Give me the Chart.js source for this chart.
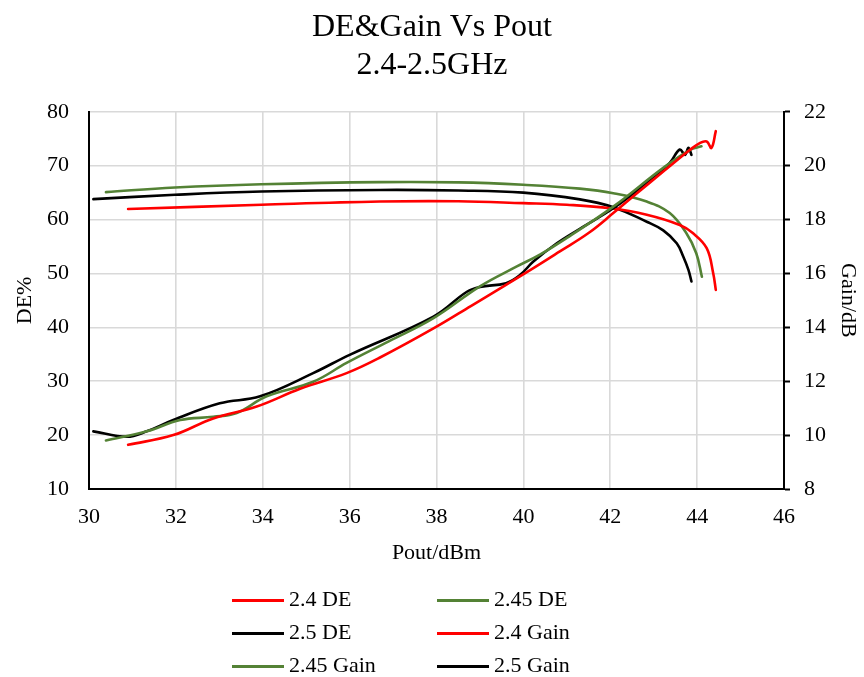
<!DOCTYPE html>
<html>
<head>
<meta charset="utf-8">
<script src="https://cdn.jsdelivr.net/npm/chart.js@4"></script>
<style>
  html, body { margin: 0; padding: 0; background: #fff; }
  #wrap { position: relative; width: 864px; height: 677px; }
  .lg { position: absolute; font-family: "Liberation Serif", "Times New Roman", serif; font-size: 22px; color: #000; line-height: 1; }
  .lg span.ln { position: absolute; height: 2.5px; width: 52px; }
  .lg span.tx { position: absolute; white-space: nowrap; }
</style>
</head>
<body>
<div id="wrap">
  <canvas id="c" width="864" height="677"></canvas>
  <div id="legend"></div>
</div>
<script>
// ---------- data ----------
const seriesNames = ["2.4 DE", "2.45 DE", "2.5 DE", "2.4 Gain", "2.45 Gain", "2.5 Gain"];
const seriesColors = ["#FF0000", "#548235", "#000000", "#FF0000", "#548235", "#000000"];

// DE (left axis, %)
const de24X = [30.9, 31.94, 32.86, 33.86, 34.86, 35.93, 36.7, 37.93, 38.8, 39.6, 40.23, 40.84, 41.5, 42.07, 42.6, 43.22, 43.83, 44.06, 44.22, 44.33, 44.43];
const de24Y = [18.2, 20.0, 23.1, 25.3, 28.6, 31.5, 34.4, 39.8, 44.0, 47.9, 51.0, 54.1, 57.5, 61.2, 64.8, 68.9, 72.9, 74.2, 74.5, 73.3, 76.4];

const de245X = [30.39, 31.33, 32.1, 32.86, 33.4, 34.09, 35.16, 35.93, 36.9, 37.93, 39.0, 39.85, 40.38, 41.0, 42.07, 43.22, 43.83, 44.1];
const de245Y = [19.0, 20.7, 22.8, 23.4, 24.1, 27.2, 29.9, 33.4, 37.4, 41.7, 47.6, 51.3, 53.5, 56.6, 62.4, 69.6, 72.9, 73.6];

const de25X = [30.1, 30.87, 31.33, 31.94, 33.01, 33.94, 35.16, 36.0, 37.93, 38.7, 39.0, 39.6, 39.92, 40.23, 40.77, 41.3, 42.07, 42.84, 43.37, 43.6, 43.72, 43.8, 43.87];
const de25Y = [20.7, 19.7, 20.7, 22.8, 25.9, 27.2, 31.5, 34.9, 42.0, 46.6, 47.5, 48.2, 49.7, 52.2, 55.6, 58.3, 62.1, 66.8, 70.5, 73.0, 72.0, 73.3, 72.0];

// Gain (right axis, dB)
const gain24X = [30.9, 33.97, 36.7, 38.5, 40.0, 41.0, 42.0, 42.84, 43.6, 43.9, 44.22, 44.37, 44.43];
const gain24Y = [18.39, 18.55, 18.67, 18.68, 18.61, 18.55, 18.42, 18.18, 17.8, 17.5, 16.94, 16.01, 15.39];

const gain245X = [30.39, 31.98, 33.97, 36.7, 38.5, 40.0, 41.3, 42.07, 42.84, 43.37, 43.75, 43.98, 44.11];
const gain245Y = [19.02, 19.19, 19.31, 19.39, 19.38, 19.29, 19.15, 18.98, 18.67, 18.24, 17.5, 16.75, 15.88];

const gain25X = [30.1, 31.98, 33.97, 36.7, 38.5, 40.0, 41.3, 42.07, 42.84, 43.22, 43.53, 43.68, 43.8, 43.87];
const gain25Y = [18.76, 18.92, 19.04, 19.1, 19.08, 19.0, 18.75, 18.46, 17.92, 17.6, 17.12, 16.63, 16.13, 15.7];

// axes
const xMin = 30, xMax = 46, xStep = 2;
const deMin = 10, deMax = 80, deStep = 10;
const gainMin = 8, gainMax = 22, gainStep = 2;
const titleLines = ["DE&Gain Vs Pout", "2.4-2.5GHz"];
const xTitle = "Pout/dBm";
const yTitle = "DE%";
const y2Title = "Gain/dB";

// ---------- build ----------
const zip = (xs, ys) => xs.map((x, i) => ({ x: x, y: ys[i] }));
const seriesX = [de24X, de245X, de25X, gain24X, gain245X, gain25X];
const seriesY = [de24Y, de245Y, de25Y, gain24Y, gain245Y, gain25Y];
const axisOf = ["y", "y", "y", "y2", "y2", "y2"];

const datasets = seriesNames.map((name, i) => ({
  label: name,
  data: zip(seriesX[i], seriesY[i]),
  yAxisID: axisOf[i],
  borderColor: seriesColors[i],
  backgroundColor: seriesColors[i],
  borderWidth: 2.6,
  pointRadius: 0,
  pointHoverRadius: 0,
  showLine: true,
  fill: false,
  tension: 0.4,
  borderCapStyle: "round",
  borderJoinStyle: "round"
}));

const FONT = "'Liberation Serif', 'Times New Roman', serif";
const GRID = "#d9d9d9";

new Chart(document.getElementById("c"), {
  type: "scatter",
  data: { datasets: datasets },
  options: {
    responsive: false,
    animation: false,
    devicePixelRatio: 1,
    layout: { padding: { left: 0, right: 0, top: 0, bottom: 102 } },
    plugins: {
      legend: { display: false },
      tooltip: { enabled: false },
      title: {
        display: true,
        text: titleLines,
        color: "#000",
        font: { family: FONT, size: 32, weight: "normal", lineHeight: 1.2 },
        padding: { top: 8, bottom: 27 }
      }
    },
    scales: {
      x: {
        type: "linear",
        min: xMin, max: xMax,
        ticks: { stepSize: xStep, color: "#000", font: { family: FONT, size: 22 }, padding: 15, maxRotation: 0 },
        grid: {
          color: (c) => (c.tick && (c.tick.value === xMin || c.tick.value === xMax)) ? "rgba(0,0,0,0)" : GRID,
          lineWidth: 1.6,
          drawTicks: false
        },
        border: { display: true, color: "#000", width: 2 },
        title: { display: true, text: xTitle, color: "#000", font: { family: FONT, size: 22 }, padding: { top: 0, bottom: 9 } },
        afterFit: (s) => { s.height = 86; }
      },
      y: {
        position: "left",
        min: deMin, max: deMax,
        ticks: { stepSize: deStep, color: "#000", font: { family: FONT, size: 22 }, padding: 20 },
        grid: {
          color: (c) => (c.tick && c.tick.value === deMin) ? "rgba(0,0,0,0)" : GRID,
          lineWidth: 1.6,
          drawTicks: false
        },
        border: { display: true, color: "#000", width: 2 },
        title: { display: true, text: yTitle, color: "#000", font: { family: FONT, size: 22 }, padding: { top: 12, bottom: 0 } },
        afterFit: (s) => { s.width = 89; }
      },
      y2: {
        position: "right",
        min: gainMin, max: gainMax,
        ticks: { stepSize: gainStep, color: "#000", font: { family: FONT, size: 22 }, padding: 14 },
        grid: {
          drawOnChartArea: false,
          drawTicks: true,
          tickLength: 6,
          tickColor: "#000",
          tickWidth: 2
        },
        border: { display: true, color: "#000", width: 2 },
        title: { display: true, text: y2Title, color: "#000", font: { family: FONT, size: 22 }, padding: { top: 3, bottom: 0 } },
        afterFit: (s) => { s.width = 80; }
      }
    }
  }
});

// ---------- legend (two columns, three rows) ----------
const legend = document.getElementById("legend");
const colX = [232, 437];
const rowY = [600, 633, 666];
seriesNames.forEach((name, i) => {
  const col = i % 2, row = Math.floor(i / 2);
  const item = document.createElement("div");
  item.className = "lg";
  item.style.left = colX[col] + "px";
  item.style.top = rowY[row] + "px";
  const ln = document.createElement("span");
  ln.className = "ln";
  ln.style.background = seriesColors[i];
  ln.style.left = "0px";
  ln.style.top = "-1px";
  const tx = document.createElement("span");
  tx.className = "tx";
  tx.textContent = name;
  tx.style.left = "57px";
  tx.style.top = "-12px";
  item.appendChild(ln);
  item.appendChild(tx);
  legend.appendChild(item);
});
</script>
</body>
</html>
